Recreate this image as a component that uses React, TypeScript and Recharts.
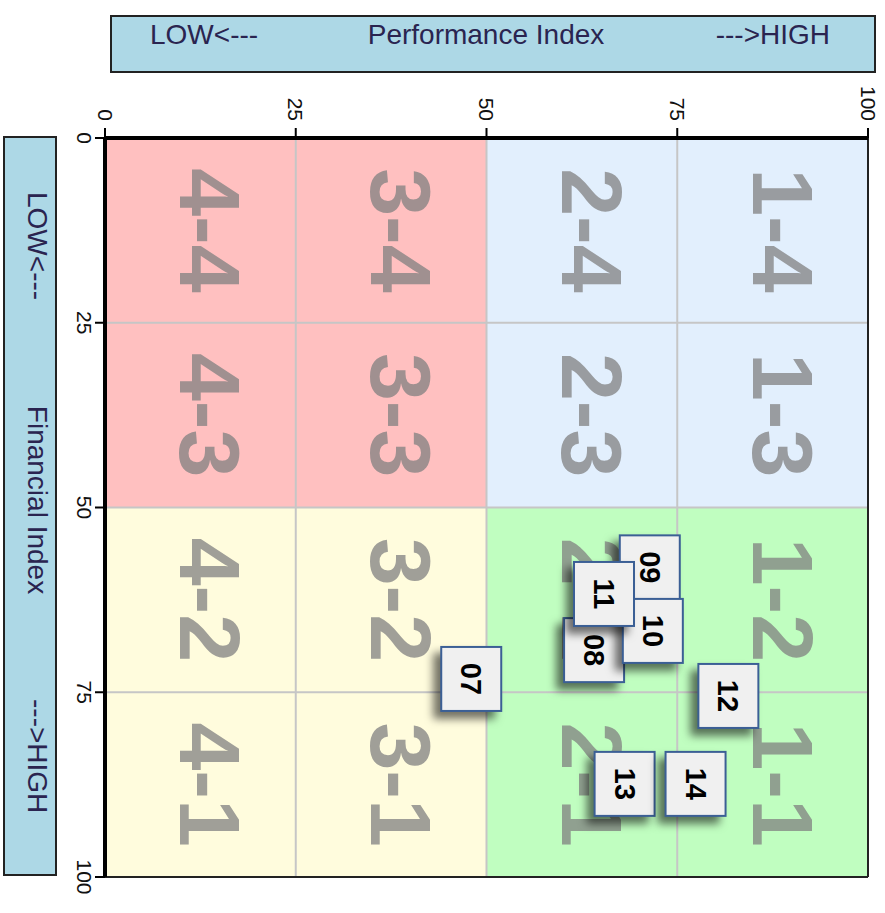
import React from "react";
import { ScatterChart, Scatter, XAxis, YAxis, ReferenceArea, ReferenceLine } from "recharts";

const FONT = '"Liberation Sans", Arial, sans-serif';

// axes
const AXIS_TICKS = [0, 25, 50, 75, 100];
const GRID_STEPS = [25, 50, 75];
const X_TITLE = ["LOW<---", "Performance Index", "--->HIGH"];
const Y_TITLE = ["LOW<---", "Financial Index", "--->HIGH"];

// quadrants: [x1, x2, y1, y2]
const QUAD_BOUNDS = [
  [0, 50, 0, 50],
  [50, 100, 0, 50],
  [0, 50, 50, 100],
  [50, 100, 50, 100],
];
const QUAD_COLORS = ["#ffc0c0", "#e2effd", "#fffcdd", "#c0fec0"];

// cell tags, columns along performance, rows along financial
const COL_TAGS = ["4", "3", "2", "1"];
const ROW_TAGS = ["4", "3", "2", "1"];
const CELL_CENTERS = [12.5, 37.5, 62.5, 87.5];

// units
const UNIT_IDS = ["07", "08", "09", "10", "11", "12", "13", "14"];
const PERFORMANCE = [48.0, 64.1, 71.4, 71.8, 65.4, 81.7, 68.1, 77.4];
const FINANCIAL = [73.2, 69.3, 58.1, 66.7, 61.7, 75.5, 87.4, 87.4];

const units = UNIT_IDS.map((id, i) => ({ id, x: PERFORMANCE[i], y: FINANCIAL[i] }));
const cells = COL_TAGS.flatMap((c, i) =>
  ROW_TAGS.map((r, j) => ({ tag: `${c}-${r}`, x: CELL_CENTERS[i], y: CELL_CENTERS[j] }))
);

function TopTick({ x, y, payload }: any) {
  return (
    <text x={x} y={y} transform={`rotate(90, ${x}, ${y})`} textAnchor="end" dominantBaseline="central"
      fontSize={21} fill="#111" fontFamily={FONT}>
      {payload.value}
    </text>
  );
}

function LeftTick({ x, y, payload }: any) {
  return (
    <text x={x} y={y} transform={`rotate(90, ${x}, ${y})`} textAnchor="middle" dominantBaseline="central"
      fontSize={21} fill="#111" fontFamily={FONT}>
      {payload.value}
    </text>
  );
}

function CellTag({ cx, cy, payload }: any) {
  return (
    <text x={cx} y={cy} dy={-10} transform={`rotate(90, ${cx}, ${cy})`} textAnchor="middle"
      dominantBaseline="central" fontSize={86} fontWeight="bold" fill="#808080" fillOpacity={0.75}
      fontFamily={FONT}>
      {payload.tag}
    </text>
  );
}

function UnitBox({ cx, cy, payload }: any) {
  return (
    <g>
      <rect x={cx - 30} y={cy - 32} width={60} height={64} fill="#f0f0f0" stroke="#3b5f95" strokeWidth={2}
        style={{ filter: "drop-shadow(-7px 7px 4px rgba(0,0,0,0.55))" }} />
      <text x={cx} y={cy} transform={`rotate(90, ${cx}, ${cy})`} textAnchor="middle" dominantBaseline="central"
        fontSize={29} fontWeight="bold" fill="#000" fontFamily={FONT}>
        {payload.id}
      </text>
    </g>
  );
}

const boxStyle: React.CSSProperties = {
  position: "absolute",
  background: "#add8e6",
  border: "2px solid #222",
  boxSizing: "border-box",
  fontFamily: FONT,
  fontSize: 28,
  lineHeight: "28px",
  color: "#2a2450",
};

export default function App() {
  return (
    <div style={{ position: "absolute", left: 0, top: 0, width: 885, height: 913, background: "#fff" }}>
      <div style={{ ...boxStyle, left: 110, top: 15, width: 766, height: 58 }}>
        <span style={{ position: "absolute", left: 38, top: 4 }}>{X_TITLE[0]}</span>
        <span style={{ position: "absolute", left: 374, top: 4, transform: "translateX(-50%)", whiteSpace: "nowrap" }}>{X_TITLE[1]}</span>
        <span style={{ position: "absolute", right: 44, top: 4 }}>{X_TITLE[2]}</span>
      </div>
      <div style={{ ...boxStyle, left: 3, top: 136, width: 54, height: 740 }}>
        <span style={{ position: "absolute", top: 54, right: 4, writingMode: "vertical-rl" }}>{Y_TITLE[0]}</span>
        <span style={{ position: "absolute", top: 362, right: 4, writingMode: "vertical-rl", transform: "translateY(-50%)", whiteSpace: "nowrap" }}>{Y_TITLE[1]}</span>
        <span style={{ position: "absolute", bottom: 61, right: 4, writingMode: "vertical-rl" }}>{Y_TITLE[2]}</span>
      </div>
      <div style={{ position: "absolute", left: 0, top: 0 }}>
        <ScatterChart width={885} height={913} margin={{ top: 98, right: 17, bottom: 36, left: 65 }}>
          <XAxis type="number" dataKey="x" orientation="top" domain={[0, 100]} ticks={AXIS_TICKS} height={40}
            allowDataOverflow tick={<TopTick />} tickSize={10} tickMargin={7}
            axisLine={{ stroke: "#000", strokeWidth: 4 }} tickLine={{ stroke: "#000", strokeWidth: 2 }} />
          <YAxis type="number" dataKey="y" reversed domain={[0, 100]} ticks={AXIS_TICKS} width={40}
            allowDataOverflow tick={<LeftTick />} tickSize={10} tickMargin={11}
            axisLine={{ stroke: "#000", strokeWidth: 4 }} tickLine={{ stroke: "#000", strokeWidth: 2 }} />
          {QUAD_BOUNDS.map(([x1, x2, y1, y2], i) => (
            <ReferenceArea key={`q${i}`} x1={x1} x2={x2} y1={y1} y2={y2} fill={QUAD_COLORS[i]} fillOpacity={1} stroke="none" />
          ))}
          {GRID_STEPS.map((v) => (
            <ReferenceLine key={`gx${v}`} x={v} stroke="#c6c6c6" strokeWidth={2} />
          ))}
          {GRID_STEPS.map((v) => (
            <ReferenceLine key={`gy${v}`} y={v} stroke="#c6c6c6" strokeWidth={2} />
          ))}
          <ReferenceLine x={100} stroke="#222" strokeWidth={2} />
          <ReferenceLine y={100} stroke="#222" strokeWidth={2} />
          <Scatter data={cells} shape={<CellTag />} isAnimationActive={false} />
          <Scatter data={units} shape={<UnitBox />} isAnimationActive={false} />
        </ScatterChart>
      </div>
    </div>
  );
}
